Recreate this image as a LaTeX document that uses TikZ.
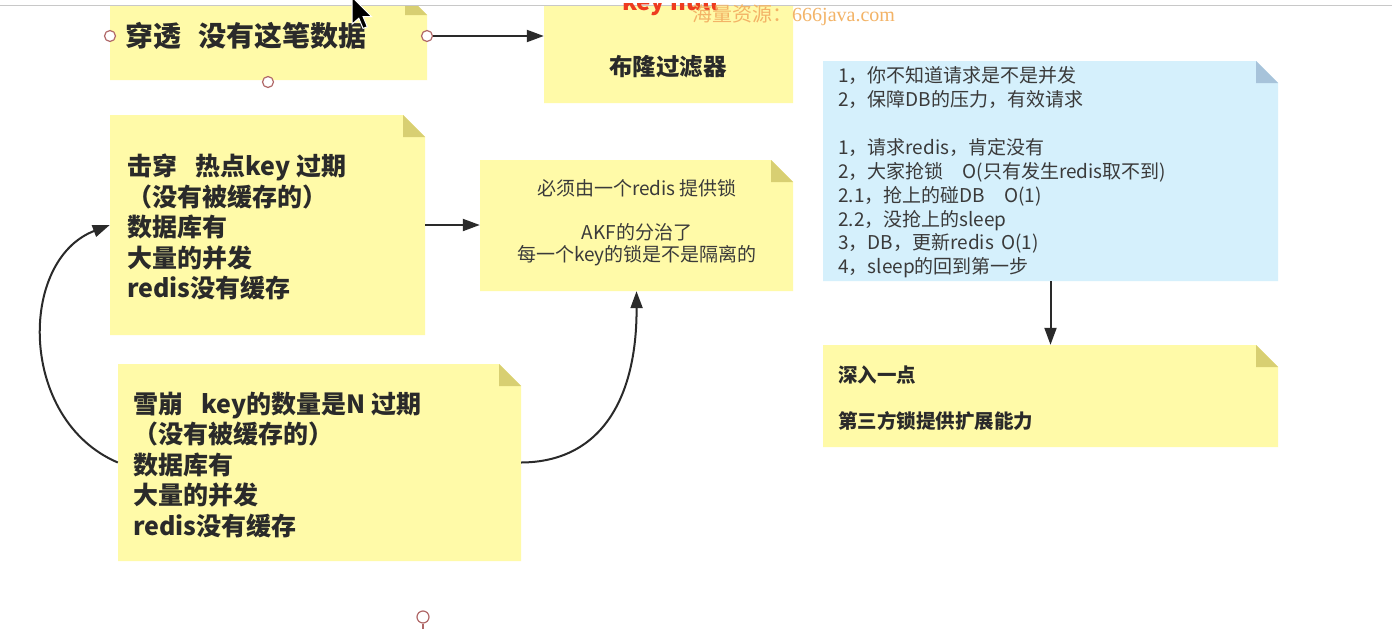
\documentclass[tikz,border=0pt]{standalone}
\usepackage{fontspec}
\setmainfont{Noto Sans CJK SC}
\newfontfamily\wmfont{Liberation Serif}
\usetikzlibrary{arrows.meta,fit}
\definecolor{noteY}{HTML}{FFFAA8}
\definecolor{foldY}{HTML}{D8CF72}
\definecolor{noteB}{HTML}{D5F0FC}
\definecolor{foldB}{HTML}{A7C3DA}
\definecolor{ink}{HTML}{2A2A2A}
\definecolor{inksoft}{HTML}{3A3A3A}
\definecolor{handlec}{HTML}{B06868}
\definecolor{wm}{HTML}{F3B366}
\definecolor{keyred}{HTML}{EE3B1F}
\definecolor{topline}{HTML}{C8C8C8}
\newcommand{\stickynote}[7]{%
  \fill[#6] (#2,#3) -- ({#4-22},#3) -- (#4,{#3+22}) -- (#4,#5) -- (#2,#5) -- cycle;
  \fill[#7] ({#4-22},#3) -- ({#4-22},{#3+22}) -- (#4,{#3+22}) -- cycle;
  \coordinate (#1-nw) at (#2,#3);
  \coordinate (#1-se) at (#4,#5);
  \node[boxarea, fit=(#1-nw)(#1-se)] (#1) {};
}
\tikzset{
  boxarea/.style={inner sep=0pt, draw=none},
  conn/.style={draw=ink, line width=2pt, -{Triangle[length=17pt,width=12pt]}},
  handle/.style={circle, draw=handlec, fill=white, line width=1.2pt, minimum size=11pt, inner sep=0pt},
  boldtxt/.style={text=ink, inner sep=0pt, align=left, font=\bfseries\fontsize{25}{30.5}\selectfont},
  plaintxt/.style={text=inksoft, inner sep=0pt, font=\fontsize{19}{22}\selectfont},
  bluetxt/.style={text=inksoft, inner sep=0pt, align=left, font=\fontsize{19}{23.85}\selectfont},
}
\begin{document}
\begin{tikzpicture}[x=1pt,y=-1pt]
\useasboundingbox (0,0) rectangle (1392,629);
\fill[white] (0,0) rectangle (1392,629);
\begin{scope}
\clip (0,6) rectangle (1392,629);
\stickynote{pen}{110}{-7}{427}{80}{noteY}{foldY}
\stickynote{bloom}{544}{-20}{793}{103}{noteY}{foldY}
\end{scope}
\stickynote{hot}{110}{115}{425}{335}{noteY}{foldY}
\stickynote{lock}{480}{160}{793}{291}{noteY}{foldY}
\stickynote{aval}{118}{364}{521}{561}{noteY}{foldY}
\stickynote{steps}{823}{61}{1278}{281}{noteB}{foldB}
\stickynote{deep}{823}{345}{1278}{447}{noteY}{foldY}
\draw[topline, line width=1.2pt] (0,5.5) -- (1392,5.5);
% red partially hidden text
\begin{scope}
\clip (0,3) rectangle (1392,40);
\node[anchor=base west, inner sep=0pt, text=keyred, font=\bfseries\fontsize{24}{24}\selectfont] (keynull) at (622,10) {key null};
\end{scope}
% texts
\node[boldtxt, anchor=west, font=\bfseries\fontsize{28}{32}\selectfont] (t-pen) at (125,36) {穿透\hspace{0.6em}没有这笔数据};
\node[boldtxt, font=\bfseries\fontsize{23.5}{28}\selectfont] (t-bloom) at (668,67) {布隆过滤器};
\node[boldtxt, anchor=west] (t-hot) at (127,227) {击穿\hspace{0.75em}热点key 过期\\（没有被缓存的）\\数据库有\\大量的并发\\redis没有缓存};
\node[boldtxt, anchor=west] (t-aval) at (133,465) {雪崩\hspace{0.75em}key的数量是N 过期\\（没有被缓存的）\\数据库有\\大量的并发\\redis没有缓存};
\node[plaintxt, align=center] (t-lock) at (637,223) {必须由一个redis 提供锁\\[22pt]AKF的分治了\\每一个key的锁是不是隔离的};
\node[bluetxt, anchor=west] (t-steps) at (838,172.5) {1，你不知道请求是不是并发\\2，保障DB的压力，有效请求\\[23.85pt]1，请求redis，肯定没有\\2，大家抢锁\hspace{1em}O(只有发生redis取不到)\\2.1，抢上的碰DB\hspace{1em}O(1)\\2.2，没抢上的sleep\\3，DB，更新redis\hspace{0.4em}O(1)\\4，sleep的回到第一步};
\node[boldtxt, anchor=west, font=\bfseries\fontsize{19.5}{23}\selectfont] (t-deep1) at (838,375) {深入一点};
\node[boldtxt, anchor=west, font=\bfseries\fontsize{19.5}{23}\selectfont] (t-deep2) at (838,421) {第三方锁提供扩展能力};
% handles
\node[handle] (h-w) at (110,36) {};
\node[handle] (h-e) at (427,36) {};
\node[handle] (h-s) at (268,82) {};
\node[handle, minimum size=12pt] (rh) at (423,617) {};
\coordinate (rh-end) at (423,629);
\draw[handlec, line width=1.2pt] (rh.south) -- (rh-end);
% connectors
\draw[conn] (h-e) -- (h-e -| bloom.west);
\draw[conn] (hot.east) -- (hot.east -| lock.west);
\draw[conn] (aval.west) .. controls (18,420) and (18,260) .. (hot.west);
\draw[conn] (aval.east) .. controls (600,462) and (637,400) .. (lock.south);
\draw[conn] (steps.south) -- (deep.north);
% watermark
\node[anchor=west, inner sep=0pt, text=wm, font=\fontsize{20}{22}\selectfont] (wm) at (692,15) {海量资源：{\wmfont 666java.com}};
% cursor
\filldraw[fill=black, draw=white, line width=1pt, shift={(352,-3)}, scale=1.7] (0,0) -- (0,16) -- (4,12.5) -- (6.5,18.5) -- (9,17.5) -- (6.5,11.5) -- (11.5,11.5) -- cycle;
\end{tikzpicture}
\end{document}
